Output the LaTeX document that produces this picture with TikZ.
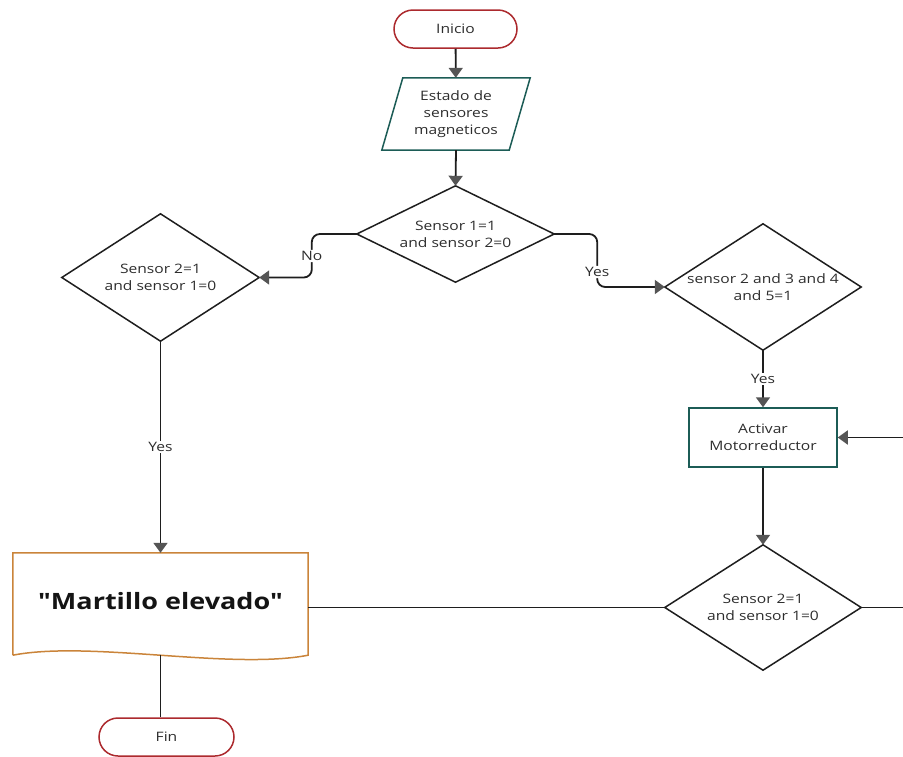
\documentclass[tikz,border=0pt]{standalone}
\usepackage{fontspec}
\setmainfont{Open Sans}[FakeStretch=1.2]
\newfontfamily\docfont{Open Sans}[FakeStretch=1.2, Ligatures=TeXOff]
\usetikzlibrary{arrows.meta,calc}
\definecolor{termred}{RGB}{172,42,46}
\definecolor{tealb}{RGB}{28,92,86}
\definecolor{docor}{RGB}{202,132,58}
\definecolor{txt}{RGB}{45,45,45}
\definecolor{arrg}{RGB}{85,85,85}
\definecolor{linec}{RGB}{30,30,30}
\begin{document}
\begin{tikzpicture}[x=1pt,y=-1pt,
  every node/.style={font=\fontsize{13}{17}\selectfont, text=txt, align=center},
  term/.style={draw=termred, line width=1.5pt, rounded corners=19pt, minimum height=38pt, fill=white},
  box/.style={draw=tealb, line width=1.5pt, minimum width=148pt, minimum height=59pt},
  dia/.style={draw=none, minimum width=197pt, inner sep=0pt},
  shp/.style={line width=1.5pt, draw=linec, line join=miter},
  conn/.style={line width=1.8pt, draw=linec},
  arr/.style={conn, -{Triangle[width=14pt,length=10pt,color=arrg]}},
  lab/.style={fill=white, inner sep=1.5pt}
]
\useasboundingbox (0,0) rectangle (903,756);

% Nodes
\node[term, minimum width=123pt] (start) at (455.5,29) {Inicio};
\node[draw=none, minimum width=148pt, minimum height=72pt] (io) at (456,114) {Estado de\\sensores\\magneticos};
\draw[draw=tealb, line width=1.5pt] ([xshift=21pt]io.north west) -- (io.north east) -- ([xshift=-21pt]io.south east) -- (io.south west) -- cycle;

\node[dia, minimum height=96pt] (d1) at (455.5,234) {Sensor 1=1\\and sensor 2=0};
\draw[shp] (d1.north) -- (d1.east) -- (d1.south) -- (d1.west) -- cycle;

\node[dia, minimum height=127pt] (d2) at (160.5,277.5) {Sensor 2=1\\and sensor 1=0};
\draw[shp] (d2.north) -- (d2.east) -- (d2.south) -- (d2.west) -- cycle;

\node[dia, minimum width=196pt, minimum height=126pt] (d3) at (763,287) {sensor 2 and 3 and 4\\and 5=1};
\draw[shp] (d3.north) -- (d3.east) -- (d3.south) -- (d3.west) -- cycle;

\node[box] (act) at (763,437.5) {Activar\\Motorreductor};

\node[dia, minimum width=196pt, minimum height=125pt] (d4) at (763,607.5) {Sensor 2=1\\and sensor 1=0};
\draw[shp] (d4.north) -- (d4.east) -- (d4.south) -- (d4.west) -- cycle;

\node[draw=none, minimum width=295pt, minimum height=102pt, font=\docfont\fontsize{22.5}{26}\selectfont\bfseries, text={rgb,255:red,20;green,20;blue,20}] (doc) at (160.5,604) {\raisebox{7pt}{"Martillo elevado"}};
\draw[draw=docor, line width=1.5pt, line join=miter] (doc.south west) -- (doc.north west) -- (doc.north east) -- (doc.south east)
  .. controls ([xshift=-78pt,yshift=-15pt]doc.south east) and ([xshift=77pt,yshift=15pt]doc.south west) .. (doc.south west);

\node[term, minimum width=135pt] (fin) at (166.5,737) {Fin};

\coordinate (rin) at (903,437.5);
\coordinate (rout) at (903,607.5);

% Connectors
\draw[arr] (start) -- (io);
\draw[arr] (io.south) -- (d1.north);
\draw[arr, rounded corners=8pt] (d1.west) -| ($(d1.west)+(-45,22)$) node[lab]{No} |- (d2.east);
\draw[arr, rounded corners=8pt] (d1.east) -| ($(d1.east)+(43,38)$) node[lab]{Yes} |- (d3.west);
\draw[arr] (d3.south) -- node[lab]{Yes} (act.north);
\draw[arr] (rin) -- (act.east);
\draw[arr] (act.south) -- (d4.north);
\draw[conn] (d4.east) -- (rout);
\draw[conn] (d4.west) -- (d4.west -| doc.east);
\draw[arr] (d2.south) -- node[lab]{Yes} (d2.south |- doc.north);
\draw[conn] (doc.south) -- (doc.south |- fin.north);
\end{tikzpicture}
\end{document}
